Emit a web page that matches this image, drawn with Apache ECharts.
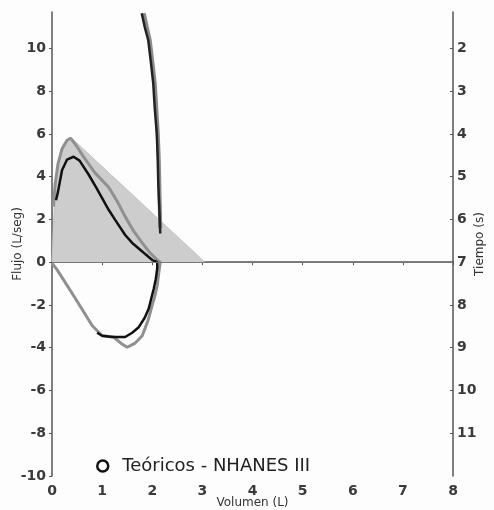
<!DOCTYPE html>
<html>
<head>
<meta charset="utf-8">
<script src="https://cdn.jsdelivr.net/npm/echarts@6/dist/echarts.min.js"></script>
<style>
  html, body { margin: 0; padding: 0; background: #fff; }
  #chart { width: 494px; height: 510px; }
</style>
</head>
<body>
<div id="chart"></div>
<script>
// volumen (L), flujo (L/seg)
const teoricos = [[0, 0], [0.02, 1.2], [0.05, 3.0], [0.1, 4.3], [0.18, 5.1], [0.28, 5.6], [0.37, 5.85], [3.05, 0]]
const curvaGris = [
  [0.03, 2.6], [0.06, 3.6], [0.12, 4.6], [0.2, 5.3], [0.3, 5.7], [0.37, 5.8], [0.5, 5.4],
  [0.62, 4.96], [0.85, 4.2], [1.13, 3.5], [1.3, 2.85], [1.46, 2.13], [1.63, 1.45],
  [1.8, 0.9], [1.95, 0.45], [2.1, 0.1], [2.16, 0],
  [2.13, -0.5], [2.1, -1.08], [2.05, -1.6], [2.0, -2.0], [1.92, -2.7], [1.8, -3.44],
  [1.65, -3.8], [1.5, -3.98], [1.38, -3.8], [1.23, -3.5], [1.0, -3.44], [0.8, -2.96],
  [0.6, -2.2], [0.47, -1.71], [0.25, -0.9], [0.1, -0.35], [0, -0.05]
]
const curvaNegra = [
  [0.08, 2.9], [0.12, 3.3], [0.2, 4.3], [0.3, 4.8], [0.43, 4.93], [0.55, 4.75],
  [0.73, 4.1], [0.88, 3.5], [1.0, 3.0], [1.13, 2.45], [1.26, 1.98], [1.46, 1.27],
  [1.6, 0.9], [1.73, 0.64], [1.9, 0.3], [2.0, 0.1], [2.1, 0],
  [2.1, -0.28], [2.07, -0.8], [2.03, -1.24], [1.98, -1.7], [1.93, -2.17], [1.85, -2.6],
  [1.73, -3.04], [1.6, -3.3], [1.46, -3.5], [1.2, -3.5], [1.0, -3.44], [0.9, -3.3]
]
// volumen (L), tiempo (s)
const volTiempo = [
  [1.79, 1.18], [1.85, 1.5], [1.92, 1.81], [1.97, 2.3], [2.02, 2.82], [2.05, 3.4],
  [2.09, 3.99], [2.11, 4.6], [2.12, 5.16], [2.14, 5.7], [2.16, 6.33]
]
const volTiempoGris = [
  [1.83, 1.18], [1.89, 1.5], [1.95, 1.81], [2.0, 2.3], [2.05, 2.82], [2.08, 3.4],
  [2.11, 3.99], [2.13, 4.6], [2.14, 5.16], [2.15, 5.7], [2.16, 6.2]
]
const flujoTicks = [-10, -8, -6, -4, -2, 0, 2, 4, 6, 8, 10]
const tiempoTicks = [2, 3, 4, 5, 6, 7, 8, 9, 10, 11]

const font = 'DejaVu Sans'
const axisColor = '#555'
const labelStyle = { color: '#3a3a3a', fontSize: 14, fontFamily: font, fontWeight: 'bold' }
const nameStyle = { color: '#333', fontSize: 12, fontFamily: font }

const chart = echarts.init(document.getElementById('chart'))
chart.setOption({
  backgroundColor: '#fdfdfd',
  animation: false,
  grid: { left: 52, right: 41, top: 12, bottom: 34, outerBoundsMode: 'none' },
  legend: {
    left: 91,
    top: 452,
    itemWidth: 13,
    itemHeight: 11,
    itemGap: 10,
    textStyle: { color: '#222', fontSize: 18, fontFamily: font, padding: [0, 0, 0, 8] },
    data: [{
      name: 'Teóricos - NHANES III',
      icon: 'circle',
      itemStyle: { color: '#fdfdfd', borderColor: '#111', borderWidth: 2.5 }
    }]
  },
  xAxis: {
    type: 'value',
    min: 0,
    max: 8,
    interval: 1,
    name: 'Volumen (L)',
    nameLocation: 'middle',
    nameGap: 21,
    nameMoveOverlap: false,
    nameTextStyle: nameStyle,
    axisLine: { lineStyle: { color: axisColor, width: 1.5 } },
    axisTick: { length: 3, lineStyle: { color: axisColor } },
    axisLabel: Object.assign({ margin: 8 }, labelStyle),
    splitLine: { show: false }
  },
  yAxis: [
    {
      type: 'value',
      min: -10,
      max: 11.7,
      interval: 2,
      name: 'Flujo (L/seg)',
      nameLocation: 'middle',
      nameGap: 28,
      nameMoveOverlap: false,
      nameTextStyle: nameStyle,
      axisLine: { lineStyle: { color: axisColor, width: 1.5 } },
      axisTick: { length: 3, customValues: flujoTicks, lineStyle: { color: axisColor } },
      axisLabel: Object.assign({ margin: 6, customValues: flujoTicks }, labelStyle),
      splitLine: { show: false }
    },
    {
      type: 'value',
      position: 'right',
      inverse: true,
      min: 1.15,
      max: 12,
      name: 'Tiempo (s)',
      nameLocation: 'middle',
      nameGap: 21,
      nameRotate: 90,
      nameMoveOverlap: false,
      nameTextStyle: nameStyle,
      axisLine: { show: true, lineStyle: { color: axisColor, width: 1.5 } },
      axisTick: { show: true, inside: true, length: 3, customValues: tiempoTicks, lineStyle: { color: axisColor } },
      axisLabel: Object.assign({ margin: 4, customValues: tiempoTicks }, labelStyle),
      splitLine: { show: false }
    }
  ],
  series: [
    {
      name: 'Teóricos - NHANES III',
      type: 'line',
      data: teoricos,
      symbol: 'none',
      lineStyle: { color: '#c4c4c4', width: 1 },
      areaStyle: { color: '#cdcdcd', opacity: 1 },
      markLine: {
        silent: true,
        symbol: 'none',
        label: { show: false },
        lineStyle: { color: '#777', width: 1, type: 'solid' },
        data: [{ yAxis: 0 }]
      }
    },
    {
      type: 'line',
      data: curvaGris,
      symbol: 'none',
      lineStyle: { color: '#909090', width: 3 }
    },
    {
      type: 'line',
      data: curvaNegra,
      symbol: 'none',
      lineStyle: { color: '#111', width: 2.5 }
    },
    {
      type: 'line',
      yAxisIndex: 1,
      data: volTiempoGris,
      symbol: 'none',
      lineStyle: { color: '#8a8a8a', width: 4 }
    },
    {
      type: 'line',
      yAxisIndex: 1,
      data: volTiempo,
      symbol: 'none',
      lineStyle: { color: '#222', width: 2.5 }
    }
  ]
})
</script>
</body>
</html>
